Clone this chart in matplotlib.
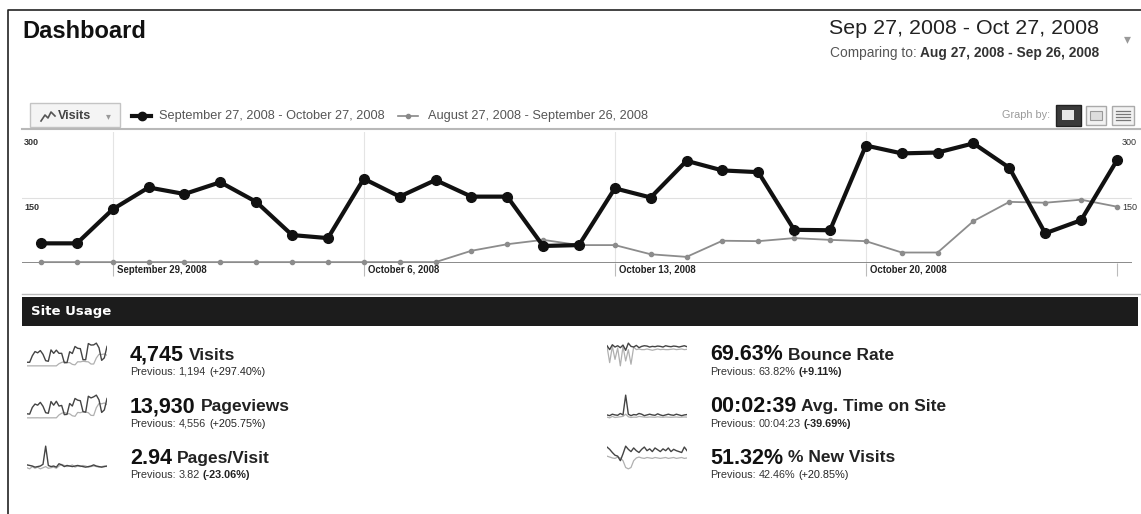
import numpy as np
import matplotlib.pyplot as plt
from matplotlib.patches import Rectangle

plt.rcParams['font.family'] = ['Liberation Sans', 'DejaVu Sans']

W, H = 1141, 514

# daily visits, Sep 27 - Oct 27 2008, and the comparison period
visits = [45, 45, 123, 173, 158, 185, 140, 64, 57, 193, 152, 190, 152, 152, 39, 41,
          171, 150, 234, 212, 208, 76, 75, 269, 251, 253, 274, 218, 68, 98, 235]
visits_prev = [2, 2, 2, 2, 2, 2, 2, 2, 2, 2, 2, 2, 28, 43, 53, 41,
               41, 20, 14, 51, 50, 57, 53, 50, 24, 24, 96, 140, 138, 145, 129]

week_idx = [2, 9, 16, 23]
week_labels = ['September 29, 2008', 'October 6, 2008', 'October 13, 2008', 'October 20, 2008']
y_ticks = [300, 150]

# sparkline series (rough reads)
pageviews = [150, 140, 380, 500, 460, 560, 420, 190, 170, 590, 460, 600, 430, 450, 120, 130,
             520, 430, 700, 640, 620, 230, 210, 780, 720, 760, 820, 650, 200, 290, 700]
pageviews_prev = [6, 5, 7, 6, 8, 5, 6, 7, 5, 6, 7, 6, 110, 170, 200, 160,
                  150, 80, 60, 200, 190, 220, 210, 190, 95, 90, 370, 520, 510, 540, 480]
pages_visit = [3.1, 3.0, 2.9, 2.7, 2.8, 2.9, 3.2, 6.4, 3.0, 2.8, 2.9, 2.7, 3.3, 3.1, 2.8, 3.0,
               2.9, 2.8, 2.9, 3.0, 2.9, 2.8, 2.7, 2.8, 2.9, 3.1, 2.9, 2.8, 2.7, 2.8, 2.9]
pages_visit_prev = [2.6, 2.4, 2.8, 2.5, 2.7, 2.4, 2.6, 2.8, 2.5, 2.6, 2.7, 2.5, 2.9, 3.2, 3.0, 2.8,
                    2.9, 3.1, 2.7, 2.9, 2.8, 3.0, 2.9, 2.7, 2.8, 2.9, 2.8, 2.7, 2.8, 2.9, 2.8]
bounce = [72, 60, 75, 68, 72, 66, 74, 58, 80, 70, 68, 73, 66, 70, 72, 71,
          68, 70, 69, 71, 70, 68, 72, 70, 69, 71, 70, 68, 70, 72, 69]
bounce_prev = [70, 20, 70, 30, 65, 10, 70, 25, 60, 15, 68, 60, 62, 60, 60, 62,
               60, 58, 60, 62, 60, 61, 60, 60, 61, 62, 60, 61, 62, 60, 61]
avg_time = [150, 140, 160, 150, 145, 170, 150, 420, 160, 140, 155, 150, 170, 160, 140, 150,
            160, 150, 145, 165, 150, 140, 150, 160, 150, 145, 160, 150, 140, 150, 155]
avg_time_prev = [120, 110, 130, 115, 120, 125, 130, 160, 125, 115, 120, 118, 130, 125, 120, 118,
                 122, 120, 118, 125, 120, 118, 122, 120, 118, 120, 122, 118, 120, 122, 120]
new_visits = [60, 55, 48, 42, 40, 30, 45, 62, 55, 50, 58, 52, 48, 55, 60, 52,
              56, 50, 58, 54, 50, 56, 52, 58, 50, 55, 52, 50, 48, 60, 52]
new_visits_prev = [40, 38, 36, 35, 38, 36, 30, 15, 12, 15, 30, 36, 38, 36, 35, 37,
                   36, 35, 37, 36, 35, 36, 37, 35, 36, 37, 35, 36, 37, 35, 36]

metric_values = ['4,745', '13,930', '2.94', '69.63%', '00:02:39', '51.32%']
metric_names = ['Visits', 'Pageviews', 'Pages/Visit', 'Bounce Rate', 'Avg. Time on Site', '% New Visits']
metric_prev = ['1,194', '4,556', '3.82', '63.82%', '00:04:23', '42.46%']
metric_change = ['(+297.40%)', '(+205.75%)', '(-23.06%)', '(+9.11%)', '(-39.69%)', '(+20.85%)']
change_bold = [False, False, True, True, True, False]
spark_series = [(visits, visits_prev), (pageviews, pageviews_prev), (pages_visit, pages_visit_prev),
                (bounce, bounce_prev), (avg_time, avg_time_prev), (new_visits, new_visits_prev)]


def rect(left, top, right, bottom):
    return [left / W, 1 - bottom / H, (right - left) / W, (bottom - top) / H]


fig = plt.figure(figsize=(W / 100, H / 100), dpi=100)
bg = fig.add_axes([0, 0, 1, 1], zorder=0)
bg.set_xlim(0, W)
bg.set_ylim(H, 0)
bg.axis('off')
renderer = fig.canvas.get_renderer()


def text_run(x, y, parts):
    # parts: (text, fontsize, weight, color, gap_after)
    for s, size, weight, color, gap in parts:
        t = bg.text(x, y, s, fontsize=size, fontweight=weight, color=color, va='center', ha='left')
        x += t.get_window_extent(renderer).width + gap
    return x


# frame
bg.plot([8, 8, W], [H, 10, 10], color='#222222', lw=1.2)

# header
bg.text(22, 31, 'Dashboard', fontsize=17, fontweight='bold', color='#111111', va='center')
bg.text(829, 29, 'Sep 27, 2008 - Oct 27, 2008', fontsize=15.4, color='#222222', va='center')
bg.text(1127, 39, '\u25be', fontsize=10, color='#999999', va='center', ha='center')
text_run(830, 53, [('Comparing to:', 9.9, 'normal', '#555555', 3),
                   ('Aug 27, 2008 - Sep 26, 2008', 9.9, 'bold', '#333333', 0)])

# toolbar
bg.add_patch(Rectangle((30, 103), 90, 24, fc='#f4f4f4', ec='#c4c4c4', lw=1))
bg.plot([41, 45, 48, 51, 55], [121, 115, 118, 112, 116], color='#555555', lw=1.2)
bg.text(58, 116, 'Visits', fontsize=9, fontweight='bold', color='#444444', va='center')
bg.text(108, 116, '\u25be', fontsize=7, color='#999999', va='center', ha='center')
bg.plot([132, 151], [116, 116], color='#111111', lw=3)
bg.plot([141.5], [116], 'o', color='#111111', ms=6)
bg.text(159, 116, 'September 27, 2008 - October 27, 2008', fontsize=9.2, color='#555555', va='center')
bg.plot([398, 418], [116, 116], color='#888888', lw=1.2)
bg.plot([408], [116], 'o', color='#888888', ms=3)
bg.text(428, 116, 'August 27, 2008 - September 26, 2008', fontsize=9.2, color='#555555', va='center')
bg.text(1050, 115, 'Graph by:', fontsize=7.8, color='#999999', va='center', ha='right')
bg.add_patch(Rectangle((1056, 105), 25, 21, fc='#3a3a3a', ec='#222222', lw=1))
bg.add_patch(Rectangle((1062, 110), 12, 10, fc='#e6e6e6', ec='none'))
bg.add_patch(Rectangle((1086, 106), 20, 19, fc='#f2f2f2', ec='#aaaaaa', lw=1))
bg.add_patch(Rectangle((1090, 111), 12, 9, fc='#dddddd', ec='#999999', lw=0.8))
bg.add_patch(Rectangle((1112, 106), 22, 19, fc='#f2f2f2', ec='#aaaaaa', lw=1))
for yy in [111, 114, 117, 120]:
    bg.plot([1116, 1130], [yy, yy], color='#777777', lw=0.9)
bg.plot([22, W], [129, 129], color='#b8b8b8', lw=1.5)

# main chart
idx = np.arange(len(visits))
ax = fig.add_axes(rect(22, 132, 1132, 263), zorder=1)
ax.patch.set_alpha(0)
ax.set_xlim(-0.53, 30.42)
ax.set_ylim(0, 300)
ax.axis('off')
ax.axhline(150, color='#e0e0e0', lw=0.8)
for i, lab in zip(week_idx, week_labels):
    ax.axvline(i, color='#e4e4e4', lw=0.8)
    ax.vlines(i, -30, 0, color='#bbbbbb', lw=0.8, clip_on=False)
    ax.text(i + 0.12, -16, lab, fontsize=6.9, fontweight='bold', color='#222222',
            va='center', ha='left', clip_on=False)
ax.vlines(idx[-1], -30, 0, color='#bbbbbb', lw=0.8, clip_on=False)
ax.axhline(0, color='#777777', lw=1.2)
ax.plot(idx, visits_prev, color='#8c8c8c', lw=1.3, marker='o', ms=3, zorder=2, clip_on=False)
ax.plot(idx, visits, color='#111111', lw=3, marker='o', ms=7, zorder=3, clip_on=False)
for v, yy in zip(y_ticks, [275, 128]):
    ax.text(-0.47, yy, str(v), fontsize=6.5, fontweight='bold', color='#333333', va='center', ha='left')
    ax.text(30.14, yy, str(v), fontsize=6.5, color='#333333', va='center', ha='left', clip_on=False)

# site usage bar
bg.plot([22, W], [294, 294], color='#bbbbbb', lw=1)
bg.add_patch(Rectangle((22, 297), 1116, 29, fc='#1c1c1c', ec='none'))
bg.text(31, 311.5, 'Site Usage', fontsize=9.5, fontweight='bold', color='white', va='center',
        family='DejaVu Sans')

# metrics
rows_y = [355, 407, 458]
for k in range(6):
    col_x = 130 if k < 3 else 710
    spark_x = 27 if k < 3 else 607
    y = rows_y[k % 3]
    text_run(col_x, y, [(metric_values[k], 15.5, 'bold', '#111111', 5),
                        (metric_names[k], 12.5, 'bold', '#222222', 0)])
    text_run(col_x, y + 17, [('Previous:', 7.8, 'normal', '#333333', 3),
                             (metric_prev[k], 7.8, 'normal', '#333333', 3),
                             (metric_change[k], 7.8, 'bold' if change_bold[k] else 'normal', '#222222', 0)])
    cur, prev = spark_series[k]
    sa = fig.add_axes(rect(spark_x, y - 13, spark_x + 80, y + 12), zorder=1)
    sa.patch.set_alpha(0)
    sa.axis('off')
    sa.plot(prev, color='#b0b0b0', lw=0.9)
    sa.plot(cur, color='#444444', lw=1.0)
    lo = min(min(cur), min(prev))
    hi = max(max(cur), max(prev))
    sa.set_ylim(lo - (hi - lo) * 0.05, hi + (hi - lo) * 0.05)
    sa.set_xlim(0, len(cur) - 1)

fig.savefig('out.png', dpi=100)
